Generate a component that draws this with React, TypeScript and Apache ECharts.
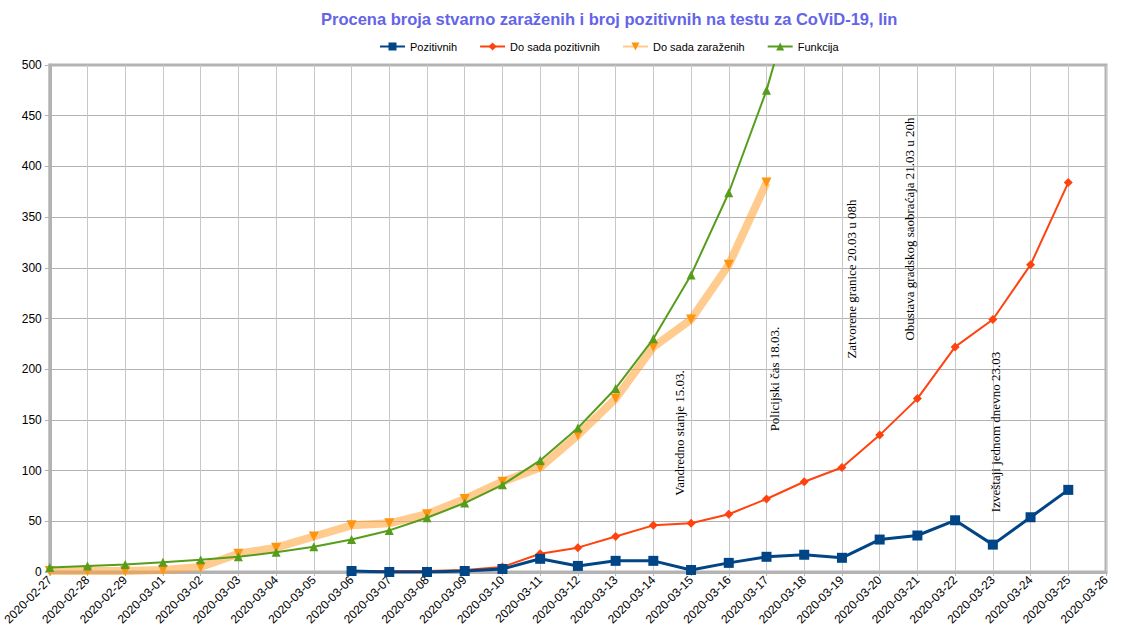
import React, { useEffect, useRef } from "react";
import * as echarts from "echarts";

const dates = [
  "2020-02-27", "2020-02-28", "2020-02-29", "2020-03-01", "2020-03-02", "2020-03-03",
  "2020-03-04", "2020-03-05", "2020-03-06", "2020-03-07", "2020-03-08", "2020-03-09",
  "2020-03-10", "2020-03-11", "2020-03-12", "2020-03-13", "2020-03-14", "2020-03-15",
  "2020-03-16", "2020-03-17", "2020-03-18", "2020-03-19", "2020-03-20", "2020-03-21",
  "2020-03-22", "2020-03-23", "2020-03-24", "2020-03-25", "2020-03-26",
];

const pozitivnih: (number | null)[] = [
  null, null, null, null, null, null, null, null,
  1, 0, 0, 1, 3, 13, 6, 11, 11, 2, 9, 15, 17, 14, 32, 36, 51, 27, 54, 81, null,
];

const doSadaPozitivnih: (number | null)[] = [
  null, null, null, null, null, null, null, null,
  1, 1, 1, 2, 5, 18, 24, 35, 46, 48, 57, 72, 89, 103, 135, 171, 222, 249, 303, 384, null,
];

const doSadaZarazenih: (number | null)[] = [
  1, 1, 1, 2, 5, 18, 24, 35, 46, 48, 57, 72, 89, 103, 135, 171, 222, 249, 303, 384,
  null, null, null, null, null, null, null, null, null,
];

const funkcija: (number | null)[] = [
  4.5, 6, 7.5, 9.5, 12, 15, 19.5, 25, 32, 41, 53.5, 68, 86, 110, 142, 181, 230, 293, 374, 475, 605,
  null, null, null, null, null, null, null, null,
];

const annotations = [
  { text: "Vandredno stanje 15.03.", x: 679, y: 433 },
  { text: "Policijski čas 18.03.", x: 774, y: 379 },
  { text: "Zatvorene granice 20.03 u 08h", x: 851, y: 279 },
  { text: "Obustava gradskog saobraćaja 21.03 u 20h", x: 909, y: 229 },
  { text: "Izveštaji jednom dnevno 23.03", x: 995, y: 432 },
];

const SANS = '"Liberation Sans", Arial, sans-serif';

export default function App() {
  const ref = useRef<HTMLDivElement>(null);
  useEffect(() => {
    document.body.style.margin = "0";
    const chart = echarts.init(ref.current!, undefined, { renderer: "svg" });
    chart.setOption({
      animation: false,
      backgroundColor: "#ffffff",
      title: {
        text: "Procena broja stvarno zaraženih i broj pozitivnih na testu za CoViD-19, lin",
        left: 316,
        top: 5,
        textStyle: { fontFamily: SANS, fontSize: 16.5, fontWeight: "bold", color: "#6464e8" },
      },
      legend: {
        left: 374,
        top: 36,
        itemWidth: 25,
        itemHeight: 10,
        itemGap: 22,
        textStyle: { fontFamily: SANS, fontSize: 11, color: "#000" },
        data: ["Pozitivnih", "Do sada pozitivnih", "Do sada zaraženih", "Funkcija"],
      },
      grid: {
        left: 47,
        right: 15,
        top: 65,
        bottom: 66,
        show: true,
        borderColor: "#b3b3b3",
        borderWidth: 3,
      },
      xAxis: {
        type: "category",
        data: dates,
        boundaryGap: false,
        axisLine: { show: true, lineStyle: { color: "#b3b3b3", width: 3 } },
        axisTick: { show: true, length: 4, alignWithLabel: true, lineStyle: { color: "#b3b3b3" } },
        axisLabel: {
          interval: 0,
          rotate: 45,
          margin: 6,
          fontFamily: SANS,
          fontSize: 12,
          color: "#000",
        },
        splitLine: { show: true, lineStyle: { color: "#c8c8c8", width: 1 } },
      },
      yAxis: {
        type: "value",
        min: 0,
        max: 500,
        interval: 50,
        axisLine: { show: true, lineStyle: { color: "#b3b3b3", width: 3 } },
        axisTick: { show: true, length: 5, lineStyle: { color: "#b3b3b3" } },
        axisLabel: { fontFamily: SANS, fontSize: 12, color: "#000", margin: 8 },
        splitLine: { show: true, lineStyle: { color: "#b3b3b3", width: 1 } },
      },
      series: [
        {
          name: "Do sada zaraženih",
          type: "line",
          data: doSadaZarazenih,
          symbol: "triangle",
          symbolRotate: 180,
          symbolSize: 10,
          itemStyle: { color: "#ff950e" },
          lineStyle: { color: "rgba(255,160,50,0.55)", width: 8 },
          z: 2,
        },
        {
          name: "Funkcija",
          type: "line",
          data: funkcija,
          symbol: "triangle",
          symbolSize: 9,
          itemStyle: { color: "#579d1c" },
          lineStyle: { color: "#579d1c", width: 2 },
          z: 3,
        },
        {
          name: "Do sada pozitivnih",
          type: "line",
          data: doSadaPozitivnih,
          symbol: "diamond",
          symbolSize: 9,
          itemStyle: { color: "#ff420e" },
          lineStyle: { color: "#ff420e", width: 2 },
          z: 4,
        },
        {
          name: "Pozitivnih",
          type: "line",
          data: pozitivnih,
          symbol: "rect",
          symbolSize: 10,
          itemStyle: { color: "#004586" },
          lineStyle: { color: "#004586", width: 3 },
          z: 5,
        },
      ],
      graphic: annotations.map((a) => ({
        type: "text",
        x: a.x,
        y: a.y,
        rotation: Math.PI / 2,
        z: 10,
        style: {
          text: a.text,
          font: '13px "Liberation Serif", "Times New Roman", serif',
          fill: "#000",
          align: "center",
          verticalAlign: "middle",
        },
      })),
    });
    return () => chart.dispose();
  }, []);
  return <div ref={ref} style={{ width: 1121, height: 638 }} />;
}
